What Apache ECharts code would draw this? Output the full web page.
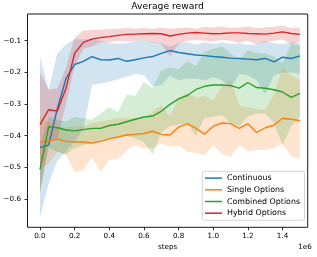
<!DOCTYPE html>
<html><head><meta charset="utf-8">
<script src="https://cdn.jsdelivr.net/npm/echarts@6/dist/echarts.min.js"></script>
<style>html,body{margin:0;padding:0;background:#fff}#c{width:317px;height:257px}</style>
</head><body><div id="c"></div>
<script>
const steps = [0,0.05,0.1,0.15,0.2,0.25,0.3,0.35,0.4,0.45,0.5,0.55,0.6,0.65,0.7,0.75,0.8,0.85,0.9,0.95,1.0,1.05,1.1,1.15,1.2,1.25,1.3,1.35,1.4,1.45,1.5];
const xTicks = [0,0.2,0.4,0.6,0.8,1.0,1.2,1.4];
const yTicks = [-0.6,-0.5,-0.4,-0.3,-0.2,-0.1];
const seriesNames = ['Continuous','Single Options','Combined Options','Hybrid Options'];

const contMean = [-0.437,-0.43,-0.315,-0.22,-0.175,-0.165,-0.15,-0.16,-0.161,-0.156,-0.165,-0.16,-0.154,-0.15,-0.14,-0.131,-0.137,-0.141,-0.145,-0.147,-0.15,-0.152,-0.155,-0.156,-0.158,-0.16,-0.156,-0.167,-0.152,-0.156,-0.148];
const contLow  = [-0.66,-0.55,-0.48,-0.45,-0.42,-0.38,-0.24,-0.235,-0.23,-0.222,-0.214,-0.205,-0.208,-0.245,-0.24,-0.21,-0.225,-0.22,-0.22,-0.225,-0.215,-0.225,-0.25,-0.205,-0.21,-0.225,-0.27,-0.21,-0.2,-0.2,-0.205];
const contHigh = [-0.15,-0.255,-0.14,-0.112,-0.095,-0.095,-0.095,-0.1,-0.107,-0.11,-0.108,-0.1,-0.098,-0.103,-0.108,-0.118,-0.108,-0.105,-0.113,-0.105,-0.11,-0.105,-0.11,-0.108,-0.113,-0.112,-0.1,-0.108,-0.11,-0.105,-0.108];

const singleMean = [-0.42,-0.416,-0.41,-0.418,-0.42,-0.42,-0.423,-0.418,-0.41,-0.404,-0.398,-0.396,-0.393,-0.386,-0.396,-0.398,-0.373,-0.362,-0.377,-0.395,-0.37,-0.36,-0.362,-0.377,-0.362,-0.39,-0.375,-0.367,-0.345,-0.348,-0.353];
const singleLow  = [-0.5,-0.49,-0.45,-0.46,-0.515,-0.51,-0.468,-0.515,-0.475,-0.475,-0.446,-0.43,-0.44,-0.44,-0.425,-0.435,-0.43,-0.451,-0.455,-0.462,-0.43,-0.457,-0.467,-0.43,-0.45,-0.445,-0.445,-0.44,-0.425,-0.467,-0.472];
const singleHigh = [-0.34,-0.36,-0.37,-0.375,-0.37,-0.37,-0.36,-0.355,-0.35,-0.345,-0.345,-0.345,-0.345,-0.325,-0.305,-0.34,-0.28,-0.265,-0.28,-0.275,-0.288,-0.245,-0.224,-0.305,-0.31,-0.315,-0.32,-0.27,-0.185,-0.21,-0.224];

const combMean = [-0.507,-0.372,-0.375,-0.382,-0.385,-0.381,-0.377,-0.377,-0.368,-0.364,-0.356,-0.348,-0.341,-0.338,-0.323,-0.301,-0.284,-0.273,-0.254,-0.244,-0.24,-0.24,-0.242,-0.25,-0.232,-0.248,-0.25,-0.255,-0.262,-0.279,-0.266];
const combLow  = [-0.58,-0.44,-0.45,-0.46,-0.44,-0.43,-0.42,-0.42,-0.41,-0.41,-0.40,-0.41,-0.42,-0.46,-0.39,-0.37,-0.365,-0.36,-0.40,-0.345,-0.34,-0.335,-0.36,-0.37,-0.34,-0.33,-0.33,-0.36,-0.43,-0.37,-0.34];
const combHigh = [-0.43,-0.34,-0.35,-0.355,-0.34,-0.345,-0.35,-0.33,-0.31,-0.325,-0.27,-0.275,-0.23,-0.25,-0.193,-0.185,-0.19,-0.165,-0.18,-0.135,-0.125,-0.118,-0.14,-0.16,-0.13,-0.138,-0.14,-0.15,-0.17,-0.11,-0.115];

const hybMean = [-0.365,-0.318,-0.322,-0.25,-0.14,-0.105,-0.095,-0.09,-0.087,-0.083,-0.08,-0.079,-0.078,-0.077,-0.078,-0.085,-0.08,-0.076,-0.074,-0.076,-0.078,-0.077,-0.075,-0.075,-0.077,-0.078,-0.079,-0.076,-0.072,-0.077,-0.08];
const hybLow  = [-0.58,-0.42,-0.41,-0.3,-0.18,-0.125,-0.118,-0.105,-0.105,-0.1,-0.102,-0.1,-0.098,-0.105,-0.11,-0.15,-0.11,-0.1,-0.098,-0.1,-0.102,-0.098,-0.1,-0.106,-0.1,-0.112,-0.104,-0.1,-0.096,-0.11,-0.105];
const hybHigh = [-0.2,-0.255,-0.25,-0.185,-0.09,-0.068,-0.066,-0.065,-0.063,-0.062,-0.06,-0.062,-0.06,-0.063,-0.058,-0.062,-0.06,-0.058,-0.062,-0.056,-0.058,-0.055,-0.06,-0.058,-0.055,-0.06,-0.057,-0.056,-0.052,-0.06,-0.058];

const colors = ['#1f77b4','#ff7f0e','#2ca02c','#d62728'];
const groups = [
  [contMean, contLow, contHigh],
  [singleMean, singleLow, singleHigh],
  [combMean, combLow, combHigh],
  [hybMean, hybLow, hybHigh]
];
const FONT = 'DejaVu Sans';
const series = [];
groups.forEach((g, k) => {
  const [m, lo, hi] = g;
  series.push({
    type: 'custom', silent: true, z: 1, clip: true,
    data: steps.map((x, i) => [x, lo[i], hi[i]]),
    encode: { x: 0, y: [1, 2] },
    renderItem: function (params, api) {
      if (params.dataIndex !== 0) return { type: 'group', children: [] };
      const pts = [];
      for (let i = 0; i < steps.length; i++) pts.push(api.coord([steps[i], hi[i]]));
      for (let i = steps.length - 1; i >= 0; i--) pts.push(api.coord([steps[i], lo[i]]));
      return { type: 'polygon', shape: { points: pts }, style: { fill: colors[k], opacity: 0.2 } };
    }
  });
});
groups.forEach((g, k) => {
  series.push({
    name: seriesNames[k], type: 'line', z: 3, symbol: 'none',
    lineStyle: { color: colors[k], width: 1.4 }, itemStyle: { color: colors[k] },
    data: steps.map((x, i) => [x, g[0][i]])
  });
});

const chart = echarts.init(document.getElementById('c'), null, { renderer: 'canvas' });
chart.setOption({
  animation: false,
  backgroundColor: '#fff',
  grid: { left: 27.5, right: 9.3, top: 14, bottom: 29.7, show: true, borderColor: '#000', borderWidth: 0.9, backgroundColor: 'transparent' },
  xAxis: {
    type: 'value', min: -0.072, max: 1.545,
    axisLine: { show: false, onZero: false }, splitLine: { show: false },
    axisTick: { show: true, length: 3, lineStyle: { color: '#000', width: 0.8 }, customValues: xTicks },
    axisLabel: { customValues: xTicks, margin: 5, fontFamily: FONT, fontSize: 7.2, color: '#000', formatter: v => v.toFixed(1) }
  },
  yAxis: {
    type: 'value', min: -0.6896, max: -0.0155,
    axisLine: { show: false, onZero: false }, splitLine: { show: false },
    axisTick: { show: true, length: 3, lineStyle: { color: '#000', width: 0.8 }, customValues: yTicks },
    axisLabel: { customValues: yTicks, margin: 6.5, fontFamily: FONT, fontSize: 7.2, color: '#000', formatter: v => v.toFixed(1).replace('-', '\u2212') }
  },
  legend: {
    data: seriesNames, orient: 'vertical', left: 202.3, top: 171.3,
    icon: 'rect', itemWidth: 17, itemHeight: 1.5, itemGap: 2.7,
    padding: [2.3, 4.5, 2.6, 2.7],
    backgroundColor: 'rgba(255,255,255,0.8)', borderColor: '#cccccc', borderWidth: 0.8, borderRadius: 2,
    textStyle: { fontFamily: FONT, fontSize: 7.9, color: '#000', lineHeight: 9 }
  },
  graphic: [
    { type: 'text', x: 167.6, y: 7, style: { text: 'Average reward', fontFamily: FONT, fontSize: 9.2, fill: '#000', textAlign: 'center', textVerticalAlign: 'middle' } },
    { type: 'text', x: 167.6, y: 247.3, style: { text: 'steps', fontFamily: FONT, fontSize: 7.2, fill: '#000', textAlign: 'center', textVerticalAlign: 'middle' } },
    { type: 'text', x: 311.7, y: 247, style: { text: '1e6', fontFamily: FONT, fontSize: 7.2, fill: '#000', textAlign: 'right', textVerticalAlign: 'middle' } }
  ],
  series: series
});
</script></body></html>
